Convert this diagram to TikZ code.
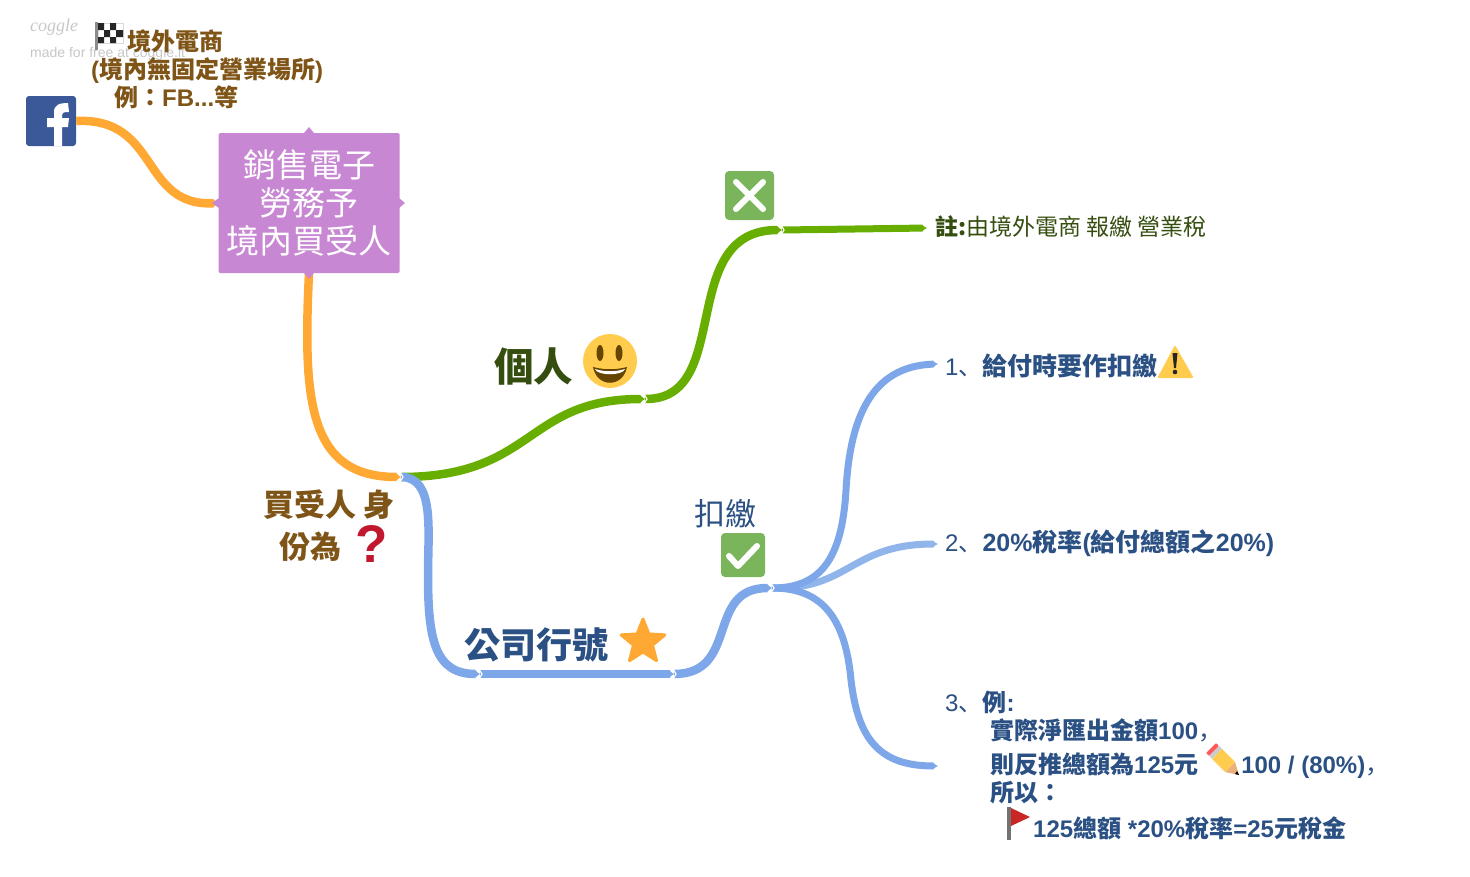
\documentclass[tikz,border=0pt]{standalone}
\usepackage{fontspec}
\setmainfont{Liberation Sans}
\newfontfamily\zh{Noto Sans CJK TC}
\newfontfamily\zhsc{Noto Sans CJK SC}
\newfontfamily\logofont{Liberation Serif}
\usetikzlibrary{arrows.meta,shapes.geometric}
\definecolor{orangeline}{HTML}{FFA833}
\definecolor{greenline}{HTML}{67AE00}
\definecolor{blueline}{HTML}{7DA7E8}
\definecolor{paleblue}{HTML}{8FB5EB}
\definecolor{rootfill}{HTML}{C887D3}
\definecolor{browntext}{HTML}{7F5417}
\definecolor{greentext}{HTML}{354E10}
\definecolor{bluetext}{HTML}{2B5083}
\definecolor{iconyellow}{HTML}{FFCC4D}
\definecolor{icongreen}{HTML}{7AB55C}
\definecolor{mouthbrown}{HTML}{664500}
\begin{document}
\begin{tikzpicture}[x=1pt, y=-1pt,
    branch/.style={line width=8.5pt, -{Latex[length=5pt,width=8.5pt]}},
    leaf/.style={line width=7pt, -{Latex[length=5pt,width=7pt]}},
    notch/.style={draw=white, line width=1.2pt},
    label/.style={anchor=west, inner sep=0pt, align=left},
    brownlabel/.style={label, text=browntext, font=\fontsize{24}{28}\selectfont\bfseries},
    greenlabel/.style={label, text=greentext},
    bluelabel/.style={label, text=bluetext},
    badge/.style={fill=icongreen, rounded corners=4pt, inner sep=0pt, minimum size=#1},
    tick/.style={draw=white, line width=6pt, line cap=round, line join=round}]
    \useasboundingbox (0,0) rectangle (1470,876);
    % watermark
    \node[text=black!22, inner sep=0pt, font=\fontsize{18}{18}\selectfont\logofont\itshape] (logo) at (54,27) {coggle};
    \node[label, text=black!22, font=\fontsize{14}{14}\selectfont] (made) at (30,54) {made for free at coggle.it};
    % nodes
    \node[fill={rgb,255:red,59;green,89;blue,152}, rounded corners=3pt, inner sep=0pt, minimum size=50pt] (fb) at (51,121) {};
    \node[fill=rootfill, rounded corners=1.5pt, inner sep=0pt, minimum width=181pt, minimum height=140pt, align=center, text=white, font=\fontsize{33}{38}\selectfont\zh] (root) at (309,203) {銷售電子\\勞務予\\境內買受人};
    \coordinate (fork) at (401,477);
    \coordinate (personal) at (645,399);
    \coordinate (note) at (782,230);
    \coordinate (noteend) at (927,228);
    \coordinate (company) at (480,674);
    \coordinate (withhold) at (674,674);
    \coordinate (split) at (772,588);
    \coordinate (first) at (938,364);
    \coordinate (second) at (938,544);
    \coordinate (third) at (938,766);
    % connectors
    \draw[branch, color=orangeline] (fb.east) .. controls (160,117) and (140,207) .. (root.west);
    \draw[branch, color=orangeline] (root.south) .. controls (303,400) and (308,477) .. (fork);
    \draw[branch, color=greenline] (fork) .. controls (535,477) and (525,399) .. (personal);
    \draw[branch, color=greenline] (personal) .. controls (735,400) and (675,230) .. (note);
    \draw[leaf, color=greenline] (note) -- (noteend);
    \draw[branch, color=blueline] (fork) .. controls (435,477) and (428,530) .. (428,575) .. controls (428,640) and (435,674) .. (company);
    \draw[branch, color=blueline] (company) -- (withhold);
    \draw[branch, color=blueline] (withhold) .. controls (740,674) and (705,588) .. (split);
    \draw[leaf, color=paleblue] (split) .. controls (850,590) and (850,544) .. (second);
    \draw[leaf, color=blueline] (split) .. controls (820,588) and (842,560) .. (846,490) .. controls (850,420) and (870,366) .. (first);
    \draw[leaf, color=blueline] (split) .. controls (820,588) and (845,615) .. (851,680) .. controls (858,740) and (880,766) .. (third);
    % joints
    \draw[notch, shift={(personal)}] (-1,-5) -- (2,0) -- (-1,5);
    \draw[notch, shift={(note)}] (-1,-5) -- (2,0) -- (-1,5);
    \draw[notch, shift={(company)}] (-1,-5) -- (2,0) -- (-1,5);
    \draw[notch, shift={(withhold)}] (-1,-5) -- (2,0) -- (-1,5);
    \draw[notch, shift={(split)}] (-1,-5) -- (2,0) -- (-1,5);
    \draw[notch, shift={(fork)}] (-1,-5) -- (2,0) -- (-1,5);
    % root tips
    \fill[rootfill] (304,133) -- (309,127) -- (314,133);
    \fill[rootfill] (219,198) -- (212,203) -- (219,208);
    \fill[rootfill] (399,198) -- (405,203) -- (399,208);
    \fill[rootfill] (304,273) -- (309,279) -- (314,273);
    % facebook letter
    \fill[white] (54,146) -- (54,127) -- (47,127) -- (47,118) -- (54,118) -- (54,112) .. controls (54,105) and (59,103) .. (68,103) -- (69,112) .. controls (63,112) and (62,112) .. (62,118) -- (69,118) -- (68,127) -- (62,127) -- (62,146) -- cycle;
    % labels
    \node[brownlabel] (abroad) at (91,69) {\hspace*{36pt}{\zh 境外電商}\\({\zh 境內無固定營業場所})\\\hspace*{23pt}{\zh 例：}FB...{\zh 等}};
    \node[brownlabel, font=\fontsize{31}{42}\selectfont\bfseries\zh, align=center] (buyer) at (263,526) {買受人 身\\份為\hspace*{36pt}};
    \node[inner sep=0pt, text={rgb,255:red,193;green,23;blue,47}, font=\fontsize{53}{53}\selectfont\bfseries] (query) at (372,544) {?};
    \node[greenlabel, font=\fontsize{39.5}{40}\selectfont\bfseries\zh] (personaltext) at (494,367) {個人};
    \node[bluelabel, font=\fontsize{36}{36}\selectfont\bfseries\zh] (companytext) at (464,645) {公司行號};
    \node[bluelabel, font=\fontsize{31}{31}\selectfont\zh] (withholdtext) at (694,514) {扣繳};
    \node[greenlabel, font=\fontsize{23}{23}\selectfont\zh] (notetext) at (935,227) {{\bfseries 註:}由境外電商 報繳 營業稅};
    \node[bluelabel, font=\fontsize{24}{28}\selectfont] (firsttext) at (945,366) {1{\zhsc 、}{\bfseries\zh\fontsize{25}{28}\selectfont 給付時要作扣繳}};
    \node[bluelabel, font=\fontsize{24}{28}\selectfont] (secondtext) at (945,543) {2{\zhsc 、}{\fontsize{25}{28}\selectfont\bfseries 20\%{\zh 稅率}({\zh 給付總額之}20\%)}};
    \node[bluelabel, font=\fontsize{24}{28}\selectfont] (thirdtext) at (945,765) {3{\zhsc 、}{\bfseries{\zh 例}:}\\[0pt]
        \hspace*{45pt}{\bfseries{\zh 實際淨匯出金額}100}{\zhsc ，}\\[6pt]
        \hspace*{45pt}{\bfseries{\zh 則反推總額為}125{\zh 元}\hspace*{43pt}100 / (80\%)}{\zhsc ，}\\[0pt]
        \hspace*{45pt}{\bfseries\zh 所以：}\\[8pt]
        \hspace*{88pt}{\bfseries 125{\zh 總額} *20\%{\zh 稅率}=25{\zh 元稅金}}};
    % icons
    \node[badge=49pt] (crossicon) at (749.5,195.5) {};
    \draw[tick] (736,182) -- (763,209) (763,182) -- (736,209);
    \node[badge=44pt] (checkicon) at (743,555) {};
    \draw[tick] (729,556) -- (738,566) -- (757,546);
    \node[star, star points=5, star point ratio=2.3, fill=orangeline, draw=orangeline, line width=3pt, line join=round, inner sep=0pt, minimum size=46pt] (staricon) at (643,642) {};
    % smiley
    \fill[iconyellow] (610,361) circle (27pt);
    \fill[mouthbrown] (600,353) ellipse (3.5pt and 8pt) (619,353) ellipse (3.5pt and 8pt);
    \fill[mouthbrown] (593,367) .. controls (597,388) and (623,388) .. (627,367) .. controls (615,370) and (605,370) .. (593,367);
    \fill[white] (595,369) .. controls (605,372) and (615,372) .. (625,369) .. controls (623,376) and (597,376) .. (595,369);
    % warning
    \fill[iconyellow, draw=iconyellow, line width=2pt, line join=round] (1175,347) -- (1192,377) -- (1159,377) -- cycle;
    \fill[black!85] (1172.5,353) -- (1177.5,353) -- (1176,368) -- (1174,368) -- cycle (1175,372) circle (2.3pt);
    % chequered flag
    \fill[black!45!white] (95,22) rectangle (98,50);
    \fill[white, draw=black!15] (98,23) rectangle (123,43);
    \fill[black!85] (98,23) rectangle (104,30) (110,23) rectangle (116,30) (104,30) rectangle (110,37) (116,30) rectangle (123,37) (98,37) rectangle (104,43) (110,37) rectangle (116,43);
    % pencil
    \fill[red!65!white, rounded corners=1pt] (1216,743) -- (1219,746) -- (1209,756) -- (1206,753) -- cycle;
    \fill[black!20] (1219,746) -- (1222,749) -- (1212,759) -- (1209,756) -- cycle;
    \fill[iconyellow] (1222,749) -- (1235,762) -- (1225,772) -- (1212,759) -- cycle;
    \fill[orange!45!brown!60!white] (1235,762) -- (1239,775) -- (1225,772) -- cycle;
    \fill[black] (1237,771) -- (1239,775) -- (1235,774) -- cycle;
    % red flag
    \fill[black!55] (1007,807) rectangle (1011,840);
    \fill[red!75!black!85!white] (1011,808) -- (1030,817) -- (1011,826) -- cycle;
\end{tikzpicture}
\end{document}
